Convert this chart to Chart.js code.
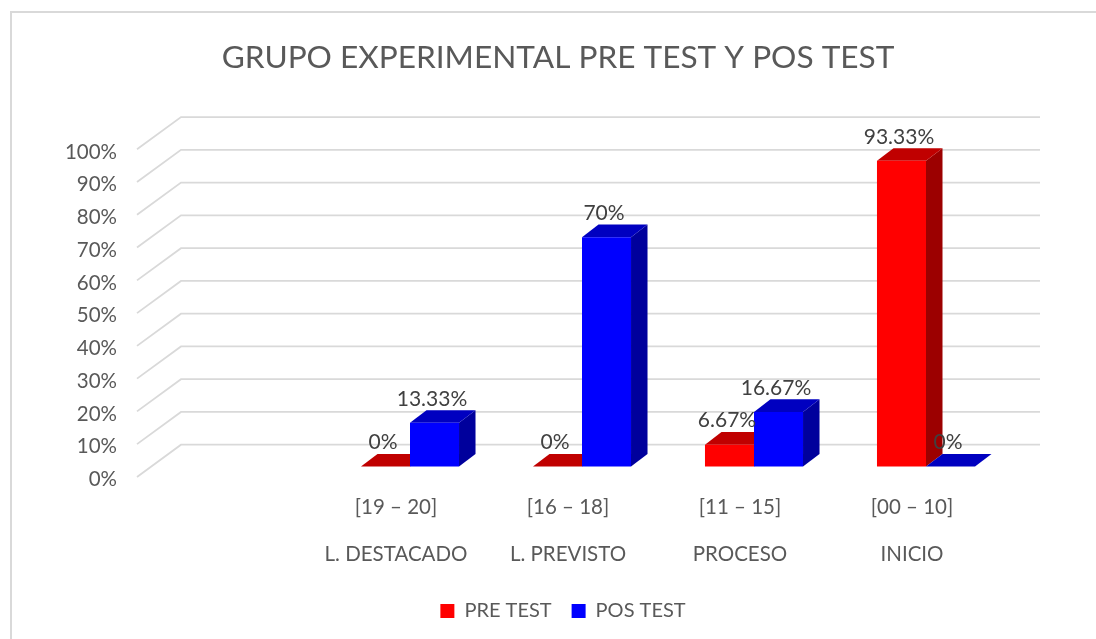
<!DOCTYPE html>
<html><head><meta charset="utf-8">
<style>html,body{margin:0;padding:0;background:#fff}#w{width:1096px;height:639px;position:relative}</style>
<script src="https://cdn.jsdelivr.net/npm/chart.js@4"></script>
</head><body><div id="w"><canvas id="c" width="1096" height="639"></canvas></div>
<script>
const categories = ['', ['[19 – 20]','L. DESTACADO'], ['[16 – 18]','L. PREVISTO'], ['[11 – 15]','PROCESO'], ['[00 – 10]','INICIO']];
const preTest = [null, 0, 0, 6.67, 93.33];
const posTest = [null, 13.33, 70, 16.67, 0];
const FONT = 'Lato, "Open Sans", sans-serif';
const TEXT = '#595959';
const depthX = 16.5, depthY = 12.6;
const colors = {
  0:{front:'#FF0000', top:'#C00000', side:'#9C0000'},
  1:{front:'#0000FF', top:'#0000C0', side:'#00009C'}
};
const wall = {fx:-15, fy:10.4, bx:29, by:-21.8, right:1040};

const threeD = {
  id:'threeD',
  beforeDraw(chart){
    const ctx = chart.ctx;
    ctx.save();
    ctx.strokeStyle='#D9D9D9'; ctx.lineWidth=2;
    ctx.beginPath();ctx.moveTo(11,639);ctx.lineTo(11,12);ctx.lineTo(1096,12);ctx.stroke();
    const y = chart.scales.y, a = chart.chartArea;
    ctx.lineWidth=1.8;
    y.ticks.forEach(t=>{
      const py = y.getPixelForValue(t.value);
      ctx.beginPath();
      ctx.moveTo(a.left+wall.fx, py+wall.fy);
      ctx.lineTo(a.left+wall.bx, py+wall.by);
      ctx.lineTo(wall.right, py+wall.by);
      ctx.stroke();
    });
    ctx.restore();
  },
  beforeDatasetsDraw(chart){
    const ctx = chart.ctx;
    chart.data.datasets.forEach((ds,i)=>{
      const meta = chart.getDatasetMeta(i), c = colors[i];
      ctx.save();
      meta.data.forEach((b,j)=>{
        if(ds.data[j]===null) return;
        const p = b.getProps(['x','y','base','width'],true);
        const l=p.x-p.width/2, r=p.x+p.width/2, t=p.y, bt=p.base;
        ctx.fillStyle=c.side;
        ctx.beginPath();
        ctx.moveTo(r,bt);ctx.lineTo(r+depthX,bt-depthY);ctx.lineTo(r+depthX,t-depthY);ctx.lineTo(r,t);ctx.closePath();ctx.fill();
        ctx.fillStyle=c.top;
        ctx.beginPath();
        ctx.moveTo(l,t);ctx.lineTo(l+depthX,t-depthY);ctx.lineTo(r+depthX,t-depthY);ctx.lineTo(r,t);ctx.closePath();ctx.fill();
      });
      ctx.restore();
      meta.controller.draw();
    });
    ctx.save();
    ctx.font='21px '+FONT;
    ctx.fillStyle='#404040';
    ctx.textAlign='center';ctx.textBaseline='middle';
    chart.data.datasets.forEach((ds,i)=>{
      chart.getDatasetMeta(i).data.forEach((b,j)=>{
        if(ds.data[j]===null) return;
        const p=b.getProps(['x','y'],true);
        ctx.fillText(ds.data[j]+'%',p.x-2.5,p.y-24);
      });
    });
    ctx.restore();
    return false;
  },
  afterLayout(chart){
    chart.legend.left+=5; chart.legend.right+=5;
    chart.scales.y.left=0;
  }
};

new Chart(document.getElementById('c'),{
  type:'bar',
  data:{labels:categories,datasets:[
    {label:'PRE TEST',data:preTest,backgroundColor:colors[0].front,categoryPercentage:0.57,barPercentage:1},
    {label:'POS TEST',data:posTest,backgroundColor:colors[1].front,categoryPercentage:0.57,barPercentage:1}
  ]},
  plugins:[threeD],
  options:{
    responsive:false,animation:false,
    layout:{padding:{left:104,right:84,top:0,bottom:8}},
    plugins:{
      title:{display:true,text:'GRUPO EXPERIMENTAL PRE TEST Y POS TEST',color:TEXT,
        font:{family:FONT,size:31.6,weight:'normal',lineHeight:1.2},padding:{top:39,bottom:62}},
      legend:{position:'bottom',labels:{color:TEXT,font:{family:FONT,size:20},boxWidth:14,boxHeight:14,padding:20}},
      tooltip:{enabled:false}
    },
    scales:{
      x:{grid:{display:false},border:{display:false},
        afterFit(s){s.height=114.5;},
        ticks:{color:TEXT,font:{family:FONT,size:20.5,lineHeight:2.29},padding:9,autoSkip:false,maxRotation:0,labelOffset:-14}},
      y:{min:0,max:100,grid:{display:false},border:{display:false},
        afterFit(s){s.width=48;},
        ticks:{stepSize:10,color:TEXT,font:{family:FONT,size:20.5},padding:27,labelOffset:13,callback:v=>v+'%'}}
    }
  }
});
</script></body></html>
